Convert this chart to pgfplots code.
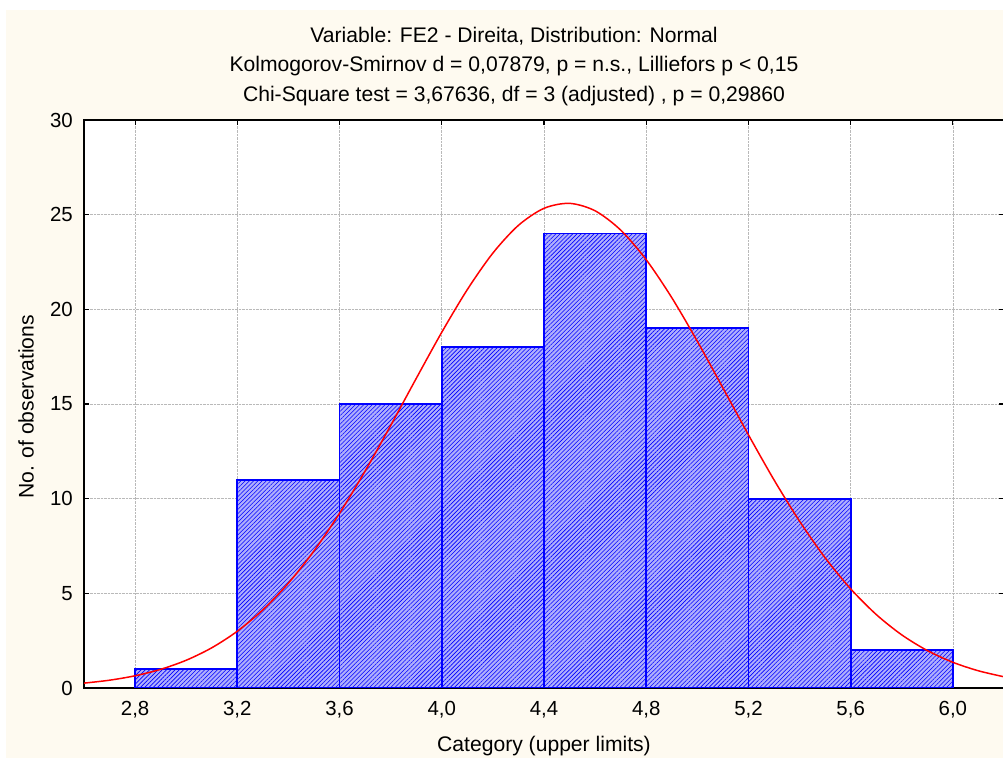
\documentclass[border=0pt]{standalone}
\usepackage{pgfplots}
\pgfplotsset{compat=1.18}
\usepackage{fontspec}
\setmainfont{Liberation Sans}
\usetikzlibrary{patterns.meta}
\definecolor{bgcream}{RGB}{254,250,240}
\definecolor{gridgray}{RGB}{185,185,185}
\definecolor{barbg}{RGB}{175,175,252}
\begin{document}
\begin{tikzpicture}
\path[use as bounding box] (0bp,0bp) rectangle (1003bp,760bp);
\fill[bgcream] (6bp,2bp) rectangle (1003bp,750bp);
\begin{axis}[
  at={(84bp,72bp)}, anchor=south west,
  scale only axis, width=920bp, height=568bp,
  xmin=2.6, xmax=6.2, ymin=0, ymax=30,
  xtick={2.8,3.2,...,6.01},
  ytick={0,5,...,30},
  axis background/.style={fill=white},
  grid=major,
  major grid style={densely dotted, gridgray, line width=0.7bp},
  axis line style={black, line width=1.6bp},
  tick style={black, line width=1.2bp},
  major tick length=5bp,
  tick align=inside,
  font=\fontsize{20.5}{24}\selectfont,
  ticklabel style={font=\fontsize{20.5}{24}\selectfont},
  x tick label style={/pgf/number format/fixed, /pgf/number format/fixed zerofill, /pgf/number format/precision=1, /pgf/number format/use comma, /pgf/number format/assume math mode=true, inner sep=0pt, yshift=-13bp},
  y tick label style={/pgf/number format/assume math mode=true, inner sep=0pt, xshift=-11bp},
  clip=true,
]
\addplot[ybar interval, draw=blue, line width=1.8bp, fill=barbg,
  postaction={pattern={Lines[angle=45,distance=3bp,line width=0.6bp]}, pattern color=blue}]
  coordinates {(2.8,1)(3.2,11)(3.6,15)(4.0,18)(4.4,24)(4.8,19)(5.2,10)(5.6,2)(6.0,2)};
\addplot[red, line width=1.5bp, smooth, no marks] coordinates {
(2.6,0.257)(2.7,0.412)(2.8,0.646)(2.9,0.986)(3.0,1.466)(3.1,2.124)(3.2,3.000)
(3.3,4.130)(3.4,5.540)(3.5,7.242)(3.6,9.227)(3.7,11.457)(3.8,13.863)(3.9,16.349)
(4.0,18.790)(4.1,21.044)(4.2,22.972)(4.3,24.437)(4.4,25.334)(4.5,25.597)
(4.6,25.204)(4.7,24.186)(4.8,22.619)(4.9,20.616)(5.0,18.311)(5.1,15.852)
(5.2,13.372)(5.3,10.993)(5.4,8.810)(5.5,6.878)(5.6,5.235)(5.7,3.882)(5.8,2.805)
(5.9,1.977)(6.0,1.357)(6.1,0.908)(6.2,0.592)};
\end{axis}
\begin{scope}[font=\fontsize{21.2}{25}\selectfont]
\node at (514bp,724bp) {Variable: FE2 - Direita, Distribution: Normal};
\node at (514bp,694bp) {Kolmogorov-Smirnov d = 0,07879, p = n.s., Lilliefors p < 0,15};
\node at (514bp,664bp) {Chi-Square test = 3,67636, df = 3 (adjusted) , p = 0,29860};
\node at (544bp,14bp) {Category (upper limits)};
\node[rotate=90] at (26bp,353bp) {No. of observations};
\end{scope}
\end{tikzpicture}
\end{document}
